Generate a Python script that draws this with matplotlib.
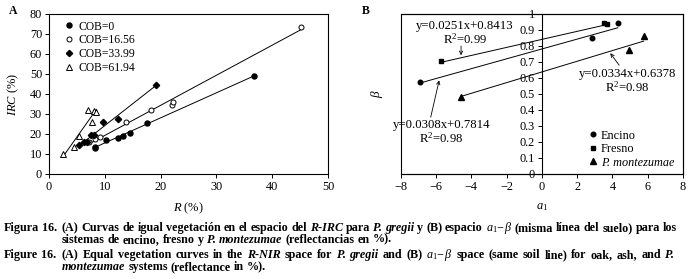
import numpy as np
import matplotlib
matplotlib.use("Agg")
import matplotlib.pyplot as plt
from matplotlib.lines import Line2D

plt.rcParams['font.family'] = ['Liberation Serif', 'DejaVu Serif']
plt.rcParams['mathtext.fontset'] = 'custom'
plt.rcParams['mathtext.rm'] = 'Liberation Serif'
plt.rcParams['mathtext.it'] = 'Liberation Serif:italic'
plt.rcParams['mathtext.bf'] = 'Liberation Serif:bold'

# ---------------- Panel A data ----------------
cob_labels = ["COB=0", "COB=16.56", "COB=33.99", "COB=61.94"]
cob0_x = [8.25, 8.25, 10.2, 12.3, 13.2, 14.6, 17.5, 36.7]
cob0_y = [13.7, 12.8, 17.0, 18.0, 19.2, 20.3, 25.7, 49.0]
cob16_x = [7.1, 8.25, 9.15, 13.8, 18.2, 22.0, 22.2, 45.2]
cob16_y = [15.8, 17.3, 18.3, 25.8, 32.0, 34.5, 36.0, 73.7]
cob34_x = [5.4, 6.35, 6.8, 7.45, 8.15, 9.7, 12.3, 19.2]
cob34_y = [14.3, 16.0, 16.0, 19.5, 19.5, 26.2, 27.5, 44.5]
cob62_x = [2.45, 4.45, 5.4, 7.05, 7.65, 8.0, 8.5]
cob62_y = [9.8, 13.7, 19.0, 32.0, 25.8, 31.5, 31.2]
a_xticks = [0, 10, 20, 30, 40, 50]
a_yticks = [0, 10, 20, 30, 40, 50, 60, 70, 80]

# ---------------- Panel B data ----------------
species = ["Encino", "Fresno", "P. montezumae"]
enc_x = [-6.9, 2.85, 4.3]
enc_y = [0.573, 0.848, 0.942]
fre_x = [-5.72, 3.55, 3.72]
fre_y = [0.704, 0.942, 0.937]
mon_x = [-4.57, 4.94, 5.77]
mon_y = [0.483, 0.775, 0.862]
slopes = [0.0308, 0.0251, 0.0334]
intercepts = [0.7814, 0.8413, 0.6378]
r2 = [0.98, 0.99, 0.98]
b_xticks = [-8, -6, -4, -2, 0, 2, 4, 6, 8]
b_yticks = [0, 0.1, 0.2, 0.3, 0.4, 0.5, 0.6, 0.7, 0.8, 0.9, 1.0]
b_yticklabels = ["0", "0.1", "0.2", "0.3", "0.4", "0.5", "0.6", "0.7", "0.8", "0.9", "1"]

W, H = 693, 279
fig = plt.figure(figsize=(W / 100, H / 100), dpi=100)

def frac(l, t, r, b):
    return [l / W, 1 - b / H, (r - l) / W, (b - t) / H]

TICK_FS = 8.8
LW = 0.7

# ---------------- Panel A ----------------
axA = fig.add_axes(frac(49, 14, 328, 174))
styles = [
    dict(marker='o', mfc='black', mec='black', ms=3.6),
    dict(marker='o', mfc='white', mec='black', ms=3.6, mew=0.7),
    dict(marker='D', mfc='black', mec='black', ms=3.2),
    dict(marker='^', mfc='white', mec='black', ms=4.0, mew=0.7),
]
seriesA = [(cob0_x, cob0_y), (cob16_x, cob16_y), (cob34_x, cob34_y), (cob62_x, cob62_y)]
handlesA = []
for (xs, ys), st, lab in zip(seriesA, styles, cob_labels):
    xs = np.array(xs); ys = np.array(ys)
    m, c = np.polyfit(xs, ys, 1)
    xx = np.array([xs.min(), xs.max()])
    axA.plot(xx, m * xx + c, color='black', lw=LW, zorder=2)
    axA.plot(xs, ys, ls='none', zorder=3, **st)
    handlesA.append(Line2D([], [], ls='none', **st))
axA.set_xlim(0, 50)
axA.set_ylim(0, 80)
axA.set_xticks(a_xticks)
axA.set_yticks(a_yticks)
axA.tick_params(direction='out', length=3, width=0.7, labelsize=TICK_FS, pad=2)
for s in axA.spines.values():
    s.set_linewidth(0.8)
axA.legend(handlesA, cob_labels, loc='upper left', bbox_to_anchor=(0.03, 1.01),
           frameon=False, fontsize=8.4, handlelength=0.6, handletextpad=0.5,
           labelspacing=0.16, borderaxespad=0.3)
axA.set_xlabel(r"$\it{R}$ (%)", fontsize=9)
axA.xaxis.set_label_coords(0.5, -0.165)
axA.set_ylabel(r"$\it{IRC}$ (%)", fontsize=9)
axA.yaxis.set_label_coords(-0.10, 0.5)

# ---------------- Panel B ----------------
axB = fig.add_axes(frac(400.7, 14, 683, 174))
stylesB = [
    dict(marker='o', mfc='black', mec='black', ms=3.3),
    dict(marker='s', mfc='black', mec='black', ms=3.5),
    dict(marker='^', mfc='black', mec='black', ms=4.0),
]
seriesB = [(enc_x, enc_y), (fre_x, fre_y), (mon_x, mon_y)]
handlesB = []
for (xs, ys), st, m, c in zip(seriesB, stylesB, slopes, intercepts):
    xs = np.array(xs)
    xx = np.array([xs.min(), xs.max()])
    axB.plot(xx, m * xx + c, color='black', lw=LW, zorder=2)
    axB.plot(xs, ys, ls='none', zorder=3, **st)
    handlesB.append(Line2D([], [], ls='none', **st))
axB.set_xlim(-8, 8)
axB.set_ylim(0, 1)
axB.set_xticks(b_xticks)
axB.set_xticklabels([("\u2212%d" % -v) if v < 0 else "%d" % v for v in b_xticks])
axB.set_yticks(b_yticks)
axB.set_yticklabels(b_yticklabels)
axB.spines['left'].set_position(('data', 0))
axB.add_patch(plt.Rectangle((0, 0), 1, 1, transform=axB.transAxes, fill=False,
                            lw=0.8, ec='black', clip_on=False, zorder=5))
for s in axB.spines.values():
    s.set_linewidth(0.8)
axB.tick_params(direction='out', length=3, width=0.7, labelsize=TICK_FS, pad=2)
legB = axB.legend(handlesB, species, loc='lower right', bbox_to_anchor=(1.0, -0.02),
                  frameon=False, fontsize=8.8, handlelength=0.5, handletextpad=0.4,
                  labelspacing=0.12, borderaxespad=0.3)
legB.get_texts()[2].set_fontstyle('italic')
axB.set_xlabel(r"$a_1$", fontsize=9)
axB.xaxis.set_label_coords(0.5, -0.17)
axB.set_ylabel(r"$\beta$", fontsize=9.5)
axB.yaxis.set_label_coords(-0.055, 0.5)

eq_pos = [(-5.68, 0.26), (-4.36, 0.88), (4.83, 0.58)]
arrows = [((-6.3, 0.355), (-5.82, 0.585)),
          ((-4.58, 0.80), (-4.58, 0.742)),
          ((4.38, 0.68), (3.88, 0.755))]
for (tx, ty), (tail, head), m, c, r in zip(eq_pos, arrows, slopes, intercepts, r2):
    axB.text(tx, ty, "y=%.4fx+%.4f\nR$^2$=%.2f" % (m, c, r), ha='center', va='center',
             fontsize=9.2, linespacing=1.0, zorder=6)
    axB.annotate('', xy=head, xytext=tail,
                 arrowprops=dict(arrowstyle='->', lw=0.6, color='black',
                                 mutation_scale=6, shrinkA=0, shrinkB=0))

fig.text(9 / W, 1 - 14 / H, "A", fontsize=8.5, fontweight='bold', ha='left', va='baseline')
fig.text(362 / W, 1 - 14 / H, "B", fontsize=8.5, fontweight='bold', ha='left', va='baseline')

# ---------------- Caption ----------------
CAP_FS = 8.7
fig.canvas.draw()
renderer = fig.canvas.get_renderer()

def make_word(word, style, x, y):
    kw = dict(fontsize=CAP_FS, ha='left', va='baseline', transform=None)
    if style == 'b':
        kw['fontweight'] = 'bold'
    elif style == 'bi':
        kw['fontweight'] = 'bold'
        kw['fontstyle'] = 'italic'
    t = fig.text(x, y, word, **kw)
    return t

def draw_line(segments, x0, ybase, x1=None):
    y = H - ybase
    words = []
    for text, style in segments:
        for w in text.split(' '):
            if w:
                words.append((w, style))
    objs = []
    widths = []
    for w, st in words:
        t = make_word(w, st, 0, y)
        bb = t.get_window_extent(renderer)
        objs.append(t)
        widths.append(bb.width)
    sp = make_word("a a", 'b', 0, y)
    one = make_word("a", 'b', 0, y)
    spw = sp.get_window_extent(renderer).width - 2 * one.get_window_extent(renderer).width
    sp.remove()
    one.remove()
    if x1 is not None and len(objs) > 1:
        gap = (x1 - x0 - sum(widths)) / (len(objs) - 1)
    else:
        gap = spw
    x = x0
    for t, wdt in zip(objs, widths):
        t.set_x(x)
        x += wdt + gap

m_a1b = r"$a_1\!-\!\beta$"
line1 = [("(A) Curvas de igual vegetación en el espacio del ", 'b'), ("R-IRC", 'bi'),
         (" para ", 'b'), ("P. gregii", 'bi'), (" y (B) espacio ", 'b'), (m_a1b, 'm'),
         (" (misma línea del suelo) para los", 'b')]
line2 = [("sistemas de encino, fresno y ", 'b'), ("P. montezumae", 'bi'),
         (" (reflectancias en %).", 'b')]
line3 = [("(A) Equal vegetation curves in the ", 'b'), ("R-NIR", 'bi'),
         (" space for ", 'b'), ("P. gregii", 'bi'), (" and (B) ", 'b'), (m_a1b, 'm'),
         (" space (same soil line) for oak, ash, and ", 'b'), ("P.", 'bi')]
line4 = [("montezumae", 'bi'), (" systems (reflectance in %).", 'b')]

draw_line([("Figura 16.", 'b')], 4, 231)
draw_line(line1, 62, 231, 677)
draw_line(line2, 62, 242.7)
draw_line([("Figure 16.", 'b')], 4, 258.3)
draw_line(line3, 62, 258.3, 674)
draw_line(line4, 62, 270)

fig.savefig("out.png", dpi=100)
